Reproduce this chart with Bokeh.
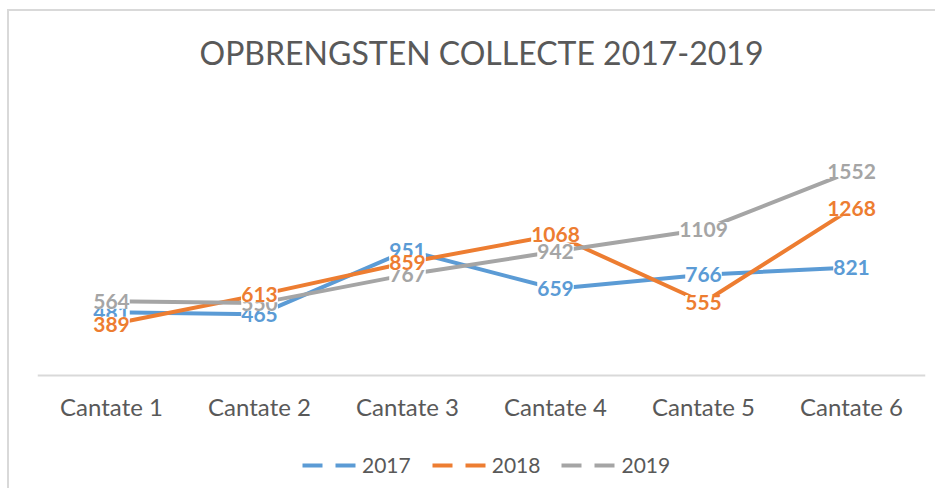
from bokeh.plotting import figure
from bokeh.models import (ColumnDataSource, FactorRange, Legend, LegendItem, Range1d)
from bokeh.core.properties import value
from bokeh.embed import file_html
from bokeh.resources import INLINE

categories = ["Cantate 1", "Cantate 2", "Cantate 3", "Cantate 4", "Cantate 5", "Cantate 6"]
series_names = ["2017", "2018", "2019"]
values_2017 = [481, 465, 951, 659, 766, 821]
values_2018 = [389, 613, 859, 1068, 555, 1268]
values_2019 = [564, 550, 767, 942, 1109, 1552]
title_text = "OPBRENGSTEN COLLECTE 2017-2019"

colors = {"2017": "#5B9BD5", "2018": "#ED7D31", "2019": "#A5A5A5"}
data = {"2017": values_2017, "2018": values_2018, "2019": values_2019}

FONT = "Lato"
TEXT_COLOR = "#595959"
BORDER = "#D9D9D9"

# frame spans down to the bottom of the canvas; the value axis baseline (0)
# sits inside it so that the legend below the axis is not clipped
p = figure(width=935, height=488, x_range=FactorRange(*categories, range_padding=0),
           y_range=Range1d(-859, 2250), output_backend="svg", toolbar_location=None,
           min_border_left=37, min_border_right=10, min_border_bottom=0,
           min_border_top=79)
p.background_fill_color = "white"
p.border_fill_color = None
p.outline_line_color = None
p.grid.visible = False
p.yaxis.visible = False
p.styles = {
    "background": (f"linear-gradient({BORDER},{BORDER}) 7px 9px / 2px 100% no-repeat, "
                   f"linear-gradient({BORDER},{BORDER}) 7px 9px / 100% 2px no-repeat, white"),
}

p.title.text = title_text
p.title.align = "center"
p.title.text_font = FONT
p.title.text_font_style = "normal"
p.title.text_font_size = "32px"
p.title.text_color = TEXT_COLOR
p.title.standoff = 15

xa = p.xaxis[0]
xa.fixed_location = 0
xa.axis_line_color = BORDER
xa.axis_line_width = 2
xa.major_tick_line_color = None
xa.minor_tick_line_color = None
xa.major_label_text_font = FONT
xa.major_label_text_font_size = "24px"
xa.major_label_text_color = TEXT_COLOR
xa.major_label_standoff = 11

sources = {}
for s in series_names:
    src = ColumnDataSource(dict(x=categories, y=data[s], label=[str(v) for v in data[s]]))
    sources[s] = src
    p.line("x", "y", source=src, line_color=colors[s], line_width=4,
           line_join="round", line_cap="round")

for s in ["2017", "2019", "2018"]:
    p.text("x", "y", text="label", source=sources[s], text_align="center",
           text_baseline="middle", text_font=value(FONT), text_font_style="bold",
           text_font_size="21px", text_color=colors[s],
           background_fill_color="white")

# legend-only renderers (dashed swatches), placed outside the visible y range
items = []
for s in series_names:
    r = p.line(categories[:2], [-5000, -5000], line_color=colors[s], line_width=4,
               line_dash="20 13")
    items.append(LegendItem(label=s, renderers=[r]))

legend = Legend(items=items, orientation="horizontal", location=(265, 11),
                glyph_width=55, glyph_height=20, label_standoff=5, spacing=21,
                padding=0, margin=0, border_line_color=None,
                background_fill_alpha=0,
                label_text_font=FONT, label_text_font_size="21px",
                label_text_color=TEXT_COLOR)
p.add_layout(legend, "center")

open("out.html", "w").write(file_html(p, INLINE))
